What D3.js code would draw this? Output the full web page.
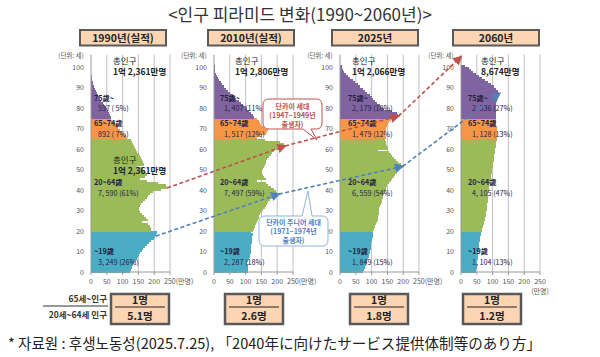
<!DOCTYPE html>
<html><head><meta charset="utf-8">
<script src="https://cdn.jsdelivr.net/npm/d3@7"></script>
<style>body{margin:0;background:#fff} svg{display:block} text{font-family:"Noto Sans CJK KR","Noto Sans",sans-serif}</style>
</head><body><svg id="c" width="600" height="357"></svg>
<script>
// ---------- DATA ----------
const years = ["1990년(실적)", "2010년(실적)", "2025년", "2060년"];
const totals = ["1억 2,361만명", "1억 2,806만명", "1억 2,066만명", "8,674만명"];
const groupNames = ["~19歲", "20~64歲", "65~74歲", "75歲~"];
const groupStarts = [0, 20, 65, 75];
const groupVals1990 = ["3, 249 (26%)", "7, 590 (61%)", "892 ( 7%)", "597 ( 5%)"];
const groupVals2010 = ["2, 287 (18%)", "7, 497 (59%)", "1, 517 (12%)", "1, 407 (11%)"];
const groupVals2025 = ["1, 849 (15%)", "6, 559 (54%)", "1, 479 (12%)", "2, 179 (18%)"];
const groupVals2060 = ["1, 104 (13%)", "4, 105 (47%)", "1, 128 (13%)", "2, 336 (27%)"];
const ratios = ["5.1명", "2.6명", "1.8명", "1.2명"];
const ageTicks = [0, 10, 20, 30, 40, 50, 60, 70, 80, 90, 100];
const popTicks = [0, 50, 100, 150, 200, 250];

// population by single age 0..100 (만명)
const pop1990 = [
122,125,129,133,137,141,145,149,152,155,
160,165,170,176,183,191,198,203,206,209,
190,191,186,181,161,179,174,168,161,156,
153,152,154,158,164,171,176,181,186,196,
221,241,236,211,176,156,171,176,174,171,
166,146,168,164,161,158,154,151,146,143,
139,136,132,129,126,
115,110,104,98,92,87,81,75,68,62,
62,59,56,53,50,46,42,38,33,30,
26,22,18,15,12,9,7,5.5,4,3,
2,1.5,1,0.6,0.4,1.0];
const pop2010 = [
107,107,108,109,106,107,111,113,114,116,
117,118,118,118,119,119,120,120,122,118,
124,126,130,134,137,139,141,143,146,150,
155,160,163,167,172,177,185,197,200,195,
189,180,172,164,135,166,158,156,153,152,
156,158,161,164,166,169,174,179,182,190,
215,225,222,210,160,
135,145,165,168,170,160,150,145,142,137,
128,123,118,112,106,100,93,86,78,71,
64,59,52,45,38,32,26,21,16,12,
9,6,4,3,2,3];
const pop2025 = [
72,76,79,82,84,86,88,91,93,96,
95,97,98,99,99,100,101,103,104,106,
104,107,111,114,117,119,120,121,122,122,
123,124,126,129,132,134,136,137,139,142,
144,147,150,155,160,165,170,175,180,185,
191,195,192,185,177,171,165,160,155,120,
153,150,147,145,143,
145,143,142,143,145,146,148,152,155,160,
172,185,180,165,140,130,125,118,110,103,
100,94,87,80,72,64,56,48,40,33,
26,20,12,8,5,6];
const pop2060 = [
48,49,50,50,51,52,53,54,54,55,
56,56,57,57,58,59,60,61,62,62,
66,68,71,72,74,75,77,78,79,80,
81,82,83,83,84,85,85,86,87,87,
88,89,90,92,93,94,95,96,97,98,
99,100,101,102,103,104,105,106,107,108,
109,110,111,112,113,
115,115,114,114,113,113,112,111,111,110,
110,110,110,110,110,110,111,112,113,115,
117,119,120,118,112,105,96,86,76,66,
56,47,39,31,25,12];

// cohort arrows: [panel, age, population]
const boomerPath = [[0, 41, 241], [1, 61.5, 225], [2, 76, 185], [3, 105, 0]];
const juniorPath = [[0, 17.5, 205], [1, 38, 205], [2, 51.5, 198], [3, 87, 122]];

// ---------- DRAW ----------
const pops = [pop1990, pop2010, pop2025, pop2060];
const groupVals = [groupVals1990, groupVals2010, groupVals2025, groupVals2060];
const groupColors = ["#4bacc6", "#9bbb59", "#f79646", "#8064a2"];
const svg = d3.select("#c");
const panelX0 = [91, 214, 340, 461];
const plotW = 79;
const y = d3.scaleLinear().domain([0, 100]).range([272, 67]);
const xs = panelX0.map(x0 => d3.scaleLinear().domain([0, 250]).range([x0, x0 + plotW]));
const groupOf = a => { let g = 0; groupStarts.forEach((s, i) => { if (a >= s) g = i; }); return g; };

// title
svg.append("text").attr("x", 300).attr("y", 21).attr("text-anchor", "middle")
  .attr("font-size", 17).attr("fill", "#333").text("<인구 피라미드 변화(1990~2060년)>");

// header boxes
const headCx = [123, 251, 375, 496];
years.forEach((t, i) => {
  svg.append("rect").attr("x", headCx[i] - 43).attr("y", 30).attr("width", 86).attr("height", 15.5)
    .attr("fill", "#fcd5b4").attr("stroke", "#595959").attr("stroke-width", 2);
  svg.append("text").attr("x", headCx[i]).attr("y", 41.8).attr("text-anchor", "middle")
    .attr("font-size", 10.5).attr("font-weight", 700).attr("fill", "#222").text(t);
});

const labelOff = [[3, 7], [6, 10], [8, 12], [7, 11]];
const totalOff = [22, 21, 12, 20];

pops.forEach((pop, i) => {
  const x = xs[i];
  const g = svg.append("g");
  // gridlines
  g.selectAll("line.grid").data(popTicks.slice(1)).join("line")
    .attr("x1", d => x(d)).attr("x2", d => x(d)).attr("y1", y(0)).attr("y2", y(106))
    .attr("stroke", "#bfbfbf").attr("stroke-width", 1);
  // bars
  g.selectAll("rect.bar").data(pop).join("rect")
    .attr("shape-rendering", "crispEdges")
    .attr("x", x(0)).attr("y", (d, a) => y(a + 1))
    .attr("width", d => x(d) - x(0)).attr("height", (d, a) => y(a) - y(a + 1) + 0.6)
    .attr("fill", (d, a) => groupColors[groupOf(a)]);
  // axes
  g.append("line").attr("x1", x(0)).attr("x2", x(0)).attr("y1", y(0)).attr("y2", y(106)).attr("stroke", "#999");
  g.append("line").attr("x1", x(0)).attr("x2", x(250)).attr("y1", y(0)).attr("y2", y(0)).attr("stroke", "#999");
  g.selectAll("line.xt").data(popTicks).join("line")
    .attr("x1", d => x(d)).attr("x2", d => x(d)).attr("y1", y(0)).attr("y2", y(0) + 3).attr("stroke", "#999");
  g.selectAll("text.yt").data(ageTicks).join("text")
    .attr("x", x(0) - 7).attr("y", d => y(d) + 2.5).attr("text-anchor", "end")
    .attr("font-size", 7).attr("fill", "#555").text(d => d);
  const last = popTicks[popTicks.length - 1];
  g.selectAll("text.xt").data(popTicks.slice(0, -1)).join("text")
    .attr("x", d => x(d)).attr("y", 284).attr("text-anchor", "middle")
    .attr("font-size", 7).attr("fill", "#555").text(d => d);
  if (i < 3) {
    const t = g.append("text").attr("x", x(last) - 6).attr("y", 284).attr("font-size", 7).attr("fill", "#555");
    t.append("tspan").text(last);
    t.append("tspan").text("(만명)");
  } else {
    g.append("text").attr("x", x(last)).attr("y", 284).attr("text-anchor", "middle")
      .attr("font-size", 7).attr("fill", "#555").text(last);
    g.append("text").attr("x", x(last)).attr("y", 294).attr("text-anchor", "middle").attr("font-size", 7).attr("fill", "#555").text("(만명)");
  }
  g.append("text").attr("x", x(0) - 20).attr("y", 58).attr("text-anchor", "middle")
    .attr("font-size", 6.5).attr("fill", "#555").text("(단위: 세)");
  // total label
  g.append("text").attr("x", x(0) + totalOff[i]).attr("y", 64).attr("font-size", 8.5).attr("fill", "#222").text("총인구");
  g.append("text").attr("x", x(0) + totalOff[i]).attr("y", 75).attr("font-size", 8.5).attr("font-weight", 700).attr("fill", "#222").text(totals[i]);
  if (i === 0) {
    g.append("text").attr("x", x(0) + 22).attr("y", 163).attr("font-size", 8.5).attr("fill", "#222").text("총인구");
    g.append("text").attr("x", x(0) + 22).attr("y", 174).attr("font-size", 8.5).attr("font-weight", 700).attr("fill", "#222").text(totals[0]);
  }
  // group labels
  const nameAge = [10.3, 43.8, 72.6, 85.1];
  const valAge = [5.1, 38.6, 67.4, 79.9];
  groupNames.forEach((n, k) => {
    g.append("text").attr("x", x(0) + labelOff[i][0]).attr("y", y(nameAge[k]) + 3)
      .attr("font-size", 7.2).attr("font-weight", 700).attr("fill", "#1f1f3f").text(n);
    g.append("text").attr("x", x(0) + labelOff[i][1]).attr("y", y(valAge[k]) + 3)
      .attr("font-size", 7.2).attr("fill", "#22224a").text(groupVals[i][k]);
  });
});

// arrows
const defs = svg.append("defs");
[["arrRed", "#c0504d"], ["arrBlue", "#4f81bd"]].forEach(([id, c]) => {
  defs.append("marker").attr("id", id).attr("viewBox", "0 0 10 10").attr("refX", 8).attr("refY", 5)
    .attr("markerWidth", 6).attr("markerHeight", 6).attr("orient", "auto-start-reverse")
    .append("path").attr("d", "M0,0 L10,5 L0,10 z").attr("fill", c);
});
function drawCohort(pts, color, marker) {
  for (let k = 0; k < pts.length - 1; k++) {
    const [p1, a1, v1] = pts[k], [p2, a2, v2] = pts[k + 1];
    svg.append("line")
      .attr("x1", xs[p1](v1)).attr("y1", y(a1)).attr("x2", xs[p2](v2)).attr("y2", y(a2))
      .attr("stroke", color).attr("stroke-width", 1.6).attr("stroke-dasharray", "4,2.5")
      .attr("marker-end", `url(#${marker})`);
  }
}
drawCohort(boomerPath, "#c0504d", "arrRed");
drawCohort(juniorPath, "#4f81bd", "arrBlue");

// callouts
function callout(x, yy, w, h, r, t1, t2, tip, side) {
  let p = `M${x + r},${yy}`;
  if (side === "top") p += `L${t1},${yy}L${tip[0]},${tip[1]}L${t2},${yy}`;
  p += `L${x + w - r},${yy}Q${x + w},${yy} ${x + w},${yy + r}L${x + w},${yy + h - r}Q${x + w},${yy + h} ${x + w - r},${yy + h}`;
  if (side === "bottom") p += `L${t2},${yy + h}L${tip[0]},${tip[1]}L${t1},${yy + h}`;
  p += `L${x + r},${yy + h}Q${x},${yy + h} ${x},${yy + h - r}L${x},${yy + r}Q${x},${yy} ${x + r},${yy}Z`;
  return p;
}
svg.append("path").attr("d", callout(263, 99, 59, 30, 6, 303, 311, [317, 140], "bottom"))
  .attr("fill", "#fff").attr("stroke", "#c0504d").attr("stroke-width", 1);
["단카이 세대", "(1947~1949년", "출생자)"].forEach((t, k) => {
  svg.append("text").attr("x", 292.5).attr("y", 108.5 + k * 9).attr("text-anchor", "middle")
    .attr("font-size", 7).attr("font-weight", 700).attr("fill", "#c0504d").text(t);
});
svg.append("path").attr("d", callout(259, 216, 69, 30, 6, 302, 312, [308, 191], "top"))
  .attr("fill", "#fff").attr("stroke", "#8db3e2").attr("stroke-width", 1);
["단카이 주니어 세대", "(1971~1974년", "출생자)"].forEach((t, k) => {
  svg.append("text").attr("x", 293.5).attr("y", 225 + k * 9).attr("text-anchor", "middle")
    .attr("font-size", 7).attr("font-weight", 700).attr("fill", "#4f81bd").text(t);
});

// ratio section
svg.append("text").attr("x", 107).attr("y", 302).attr("text-anchor", "end")
  .attr("font-size", 8.5).attr("font-weight", 700).attr("fill", "#333").text("65세~인구");
svg.append("line").attr("x1", 43).attr("x2", 108).attr("y1", 306).attr("y2", 306).attr("stroke", "#333").attr("stroke-width", 1);
svg.append("text").attr("x", 107).attr("y", 318).attr("text-anchor", "end")
  .attr("font-size", 8.5).attr("font-weight", 700).attr("fill", "#333").text("20세~64세 인구");
const ratioCx = [140, 254, 379, 492];
ratios.forEach((r, i) => {
  const cx = ratioCx[i];
  svg.append("rect").attr("x", cx - 29).attr("y", 294).attr("width", 58).attr("height", 30)
    .attr("fill", "#fcd5b4").attr("stroke", "#595959").attr("stroke-width", 2.5);
  svg.append("text").attr("x", cx).attr("y", 304).attr("text-anchor", "middle")
    .attr("font-size", 10.5).attr("font-weight", 700).attr("fill", "#222").text("1명");
  svg.append("line").attr("x1", cx - 25).attr("x2", cx + 25).attr("y1", 307).attr("y2", 307).attr("stroke", "#222").attr("stroke-width", 1);
  svg.append("text").attr("x", cx).attr("y", 319.5).attr("text-anchor", "middle")
    .attr("font-size", 10.5).attr("font-weight", 700).attr("fill", "#222").text(r);
});

// footnote
svg.append("text").attr("x", 8).attr("y", 349).attr("font-size", 14.5).attr("fill", "#222")
  .attr("textLength", 533).attr("lengthAdjust", "spacingAndGlyphs")
  .text("* 자료원 : 후생노동성(2025.7.25), 「2040年に向けたサービス提供体制等のあり方」");
</script></body></html>
